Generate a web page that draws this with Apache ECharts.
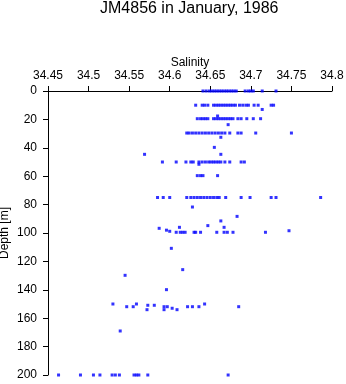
<!DOCTYPE html>
<html>
<head>
<meta charset="utf-8">
<script src="https://cdn.jsdelivr.net/npm/echarts@6/dist/echarts.min.js"></script>
<style>html,body{margin:0;padding:0;background:#fff;}#c{width:346px;height:384px;}</style>
</head>
<body>
<div id="c"></div>
<script>
const titleText = 'JM4856 in January, 1986';
const xTicks = [34.45, 34.5, 34.55, 34.6, 34.65, 34.7, 34.75, 34.8];
const yTicks = [0, 20, 40, 60, 80, 100, 120, 140, 160, 180, 200];

// depth levels [m] and the salinities observed at each
const depthLevels = [0, 10, 13, 17.6, 19.5, 23.7, 29.6, 32.6, 39.7, 44.6, 50, 51.6, 59.6, 75, 81.7, 88.3, 91.5, 94.8, 96, 96.7, 98, 98.4, 98.8, 99.5, 110.8, 125.8, 129.8, 139.9, 150, 150.9, 151.9, 153, 154, 169, 200];
const salinityByLevel = [
  [34.641, 34.645, 34.649, 34.652, 34.655, 34.658, 34.661, 34.664, 34.667, 34.670, 34.673, 34.676, 34.679, 34.682, 34.693, 34.697, 34.700, 34.703, 34.714, 34.731],
  [34.632, 34.640, 34.643, 34.647, 34.654, 34.657, 34.660, 34.663, 34.666, 34.669, 34.672, 34.675, 34.678, 34.681, 34.686, 34.690, 34.694, 34.697, 34.704, 34.709, 34.725, 34.728],
  [34.714],
  [34.659],
  [34.634, 34.638, 34.641, 34.644, 34.647, 34.654, 34.657, 34.660, 34.663, 34.666, 34.669, 34.672, 34.675, 34.678, 34.684, 34.688, 34.695, 34.703, 34.712],
  [34.672],
  [34.621, 34.624, 34.628, 34.632, 34.636, 34.640, 34.644, 34.648, 34.652, 34.656, 34.660, 34.664, 34.668, 34.674, 34.684, 34.688, 34.706, 34.750],
  [34.663],
  [34.655],
  [34.569, 34.663],
  [34.591, 34.608, 34.620, 34.626, 34.629, 34.636, 34.640, 34.644, 34.648, 34.651, 34.654, 34.657, 34.660, 34.663, 34.668, 34.674, 34.688, 34.692],
  [34.636],
  [34.634, 34.638, 34.641, 34.659],
  [34.585, 34.592, 34.600, 34.621, 34.626, 34.630, 34.634, 34.638, 34.642, 34.646, 34.650, 34.654, 34.658, 34.661, 34.669, 34.688, 34.699, 34.725, 34.731, 34.786],
  [34.628],
  [34.683],
  [34.663],
  [34.647],
  [34.612, 34.667],
  [34.587],
  [34.596],
  [34.747],
  [34.600],
  [34.608, 34.613, 34.616, 34.619, 34.630, 34.632, 34.638, 34.658, 34.667, 34.671, 34.678, 34.718],
  [34.602],
  [34.616],
  [34.545],
  [34.596],
  [34.530, 34.559, 34.643],
  [34.573, 34.581],
  [34.547, 34.555, 34.593, 34.597, 34.622, 34.628, 34.636, 34.685],
  [34.603],
  [34.572, 34.593, 34.609],
  [34.539],
  [34.463, 34.490, 34.506, 34.514, 34.529, 34.533, 34.538, 34.556, 34.559, 34.562, 34.573, 34.672]
];

const points = [];
depthLevels.forEach((d, i) => salinityByLevel[i].forEach(s => points.push([s, d])));

const font = "'Liberation Sans', Arial, Helvetica, sans-serif";
const chart = echarts.init(document.getElementById('c'), null, {renderer: 'canvas'});
chart.setOption({
  animation: false,
  backgroundColor: '#fff',
  title: {
    text: titleText, left: 100, top: 1, padding: 0,
    textStyle: {fontFamily: font, fontSize: 16, fontWeight: 'normal', color: '#000'}
  },
  grid: {left: 48, right: 14, top: 91, bottom: 9, containLabel: false, outerBoundsMode: 'none'},
  xAxis: {
    type: 'value', position: 'top', min: xTicks[0], max: xTicks[xTicks.length - 1], interval: 0.05,
    name: 'Salinity', nameLocation: 'middle', nameGap: 22, nameMoveOverlap: false,
    nameTextStyle: {fontFamily: font, fontSize: 12, color: '#000'},
    axisLine: {onZero: false, lineStyle: {color: '#000', width: 1}},
    axisTick: {length: 5, lineStyle: {color: '#000'}},
    axisLabel: {fontFamily: font, fontSize: 12, color: '#000', margin: 9,
      formatter: v => String(+v.toFixed(2))},
    splitLine: {show: false}
  },
  yAxis: {
    type: 'value', inverse: true, min: yTicks[0], max: yTicks[yTicks.length - 1], interval: 20,
    name: 'Depth [m]', nameLocation: 'middle', nameGap: 37, nameRotate: 90, nameMoveOverlap: false,
    nameTextStyle: {fontFamily: font, fontSize: 12, color: '#000'},
    axisLine: {onZero: false, lineStyle: {color: '#000', width: 1}},
    axisTick: {length: 5, lineStyle: {color: '#000'}},
    axisLabel: {fontFamily: font, fontSize: 12, color: '#000', margin: 11},
    splitLine: {show: false}
  },
  series: [{
    type: 'scatter', data: points, symbol: 'rect', symbolSize: 3, clip: false,
    itemStyle: {color: '#0000ff'}
  }]
});
</script>
</body>
</html>
